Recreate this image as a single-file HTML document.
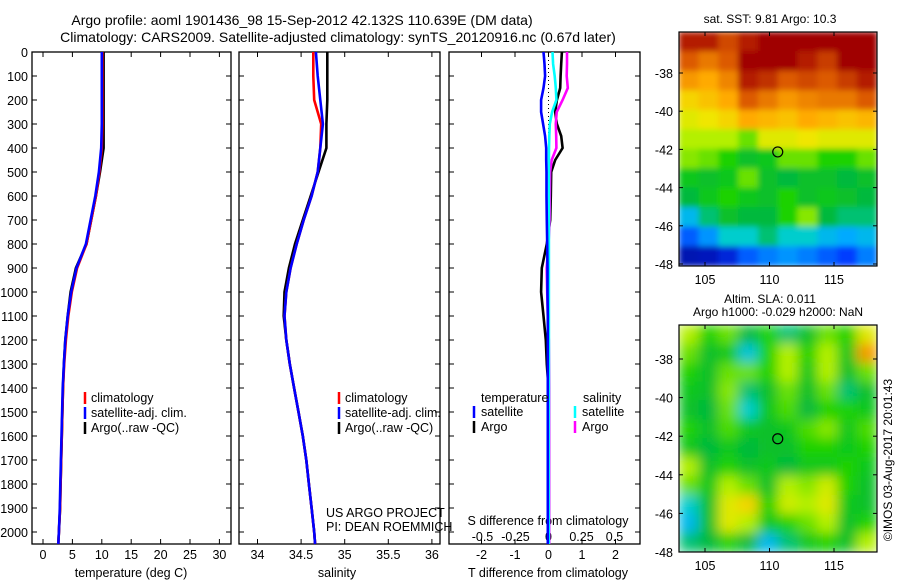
<!DOCTYPE html>
<html><head><meta charset="utf-8"><style>
html,body{margin:0;padding:0;background:#fff;}
svg{display:block;font-family:"Liberation Sans",sans-serif;}
text{fill:#000;}
</style></head><body>
<svg id="fig" width="900" height="580" viewBox="0 0 900 580">
<text x="302" y="25" font-size="14" text-anchor="middle">Argo profile: aoml 1901436_98 15-Sep-2012 42.132S 110.639E (DM data)</text>
<text x="338" y="42" font-size="14" text-anchor="middle">Climatology: CARS2009. Satellite-adjusted climatology: synTS_20120916.nc (0.67d later)</text>
<g id="g"></g>
</svg>
<script>
const depths=[0,100,200,300,400,500,600,700,800,900,1000,1100,1200,1300,1400,1500,1600,1700,1800,1900,2000,2050];
const climT=[10.1,10.1,10.1,10.1,10.0,9.6,9.0,8.2,7.4,5.8,4.9,4.3,3.9,3.6,3.4,3.3,3.2,3.1,3.0,2.9,2.7,2.6];
const satT=[10.0,10.0,10.0,10.0,9.9,9.5,8.9,8.1,7.3,5.7,4.8,4.2,3.8,3.55,3.35,3.25,3.15,3.05,2.95,2.85,2.7,2.6];
const argoT=[10.3,10.3,10.3,10.3,10.3,9.7,9.0,8.2,7.4,5.6,4.7,4.2,3.8,3.55,3.4,3.3,3.2,3.1,3.0,2.9,2.7,2.6];
const climS=[34.64,34.64,34.65,34.73,34.72,34.69,34.62,34.53,34.45,34.38,34.33,34.31,34.33,34.37,34.42,34.47,34.52,34.56,34.59,34.62,34.65,34.66];
const satS=[34.67,34.69,34.72,34.75,34.72,34.69,34.62,34.53,34.45,34.38,34.33,34.31,34.33,34.37,34.42,34.47,34.52,34.56,34.59,34.62,34.65,34.66];
const argoS=[34.8,34.8,34.8,34.79,34.79,34.70,34.61,34.52,34.43,34.36,34.31,34.30,34.33,34.37,34.42,34.47,34.52,34.56,34.59,34.62,34.65,34.66];
const dDepths=[0,50,100,150,200,250,300,350,400,450,500,600,700,800,900,1000,1100,1200,1300,1400,1600,1800,2000,2050];
const dTsat=[-0.15,-0.12,-0.1,-0.15,-0.22,-0.22,-0.16,-0.1,-0.07,-0.07,-0.06,-0.06,-0.05,-0.04,-0.03,-0.03,-0.02,-0.02,-0.02,-0.02,-0.02,-0.02,-0.02,-0.02];
const dTargo=[0.4,0.38,0.36,0.35,0.25,0.2,0.25,0.38,0.42,0.2,0.08,0.07,0.05,-0.05,-0.2,-0.22,-0.15,-0.08,-0.05,0,0,0,0,0];
const dSsat=[0.03,0.035,0.047,0.055,0.06,0.027,0.01,0.006,0.004,0.003,0.003,0.003,0.003,0.003,0.003,0.003,0.003,0.003,0.003,0.003,0.002,0.002,0.002,0.002];
const dSargo=[0.14,0.14,0.138,0.146,0.107,0.062,0.055,0.058,0.06,0.024,0.012,0.01,0.008,0.0,-0.014,-0.01,-0.005,0.002,0.004,0.005,0.005,0.005,0.005,0.005];
const tTicks=[0,5,10,15,20,25,30];
const sTicks=[34,34.5,35,35.5,36];
const sTickLabels=["34","34.5","35","35.5","36"];
const dtTicks=[-2,-1,0,1,2];
const dsTicks=[-0.5,-0.25,0,0.25,0.5];
const dsTickLabels=["-0.5","-0.25","0","0.25","0.5"];
const depthTicks=[0,100,200,300,400,500,600,700,800,900,1000,1100,1200,1300,1400,1500,1600,1700,1800,1900,2000];
const sstGrid=[
[0.95,0.95,0.88,0.95,1,1,1,1,1,1],
[0.85,0.8,0.85,1,1,1,0.95,0.9,1,1],
[0.75,0.72,0.78,0.95,0.92,0.85,0.88,0.85,0.9,0.95],
[0.65,0.68,0.72,0.85,0.8,0.75,0.78,0.8,0.8,0.85],
[0.6,0.62,0.65,0.72,0.7,0.68,0.72,0.7,0.68,0.7],
[0.55,0.55,0.55,0.5,0.6,0.6,0.62,0.6,0.6,0.6],
[0.52,0.5,0.45,0.4,0.42,0.5,0.5,0.45,0.45,0.5],
[0.42,0.4,0.42,0.5,0.4,0.38,0.4,0.4,0.38,0.4],
[0.38,0.42,0.45,0.42,0.4,0.45,0.4,0.42,0.4,0.38],
[0.25,0.35,0.4,0.38,0.38,0.45,0.52,0.38,0.35,0.35],
[0.15,0.2,0.3,0.3,0.35,0.3,0.3,0.25,0.22,0.25],
[0.04,0.05,0.08,0.15,0.18,0.2,0.18,0.15,0.12,0.18]];
const slaGrid=[
[0.55,0.45,0.5,0.38,0.45,0.35,0.4,0.5,0.45,0.6],
[0.5,0.4,0.42,0.28,0.45,0.55,0.45,0.55,0.42,0.75],
[0.45,0.4,0.5,0.5,0.45,0.55,0.42,0.55,0.4,0.5],
[0.42,0.4,0.52,0.35,0.4,0.5,0.4,0.5,0.35,0.4],
[0.4,0.38,0.5,0.3,0.42,0.48,0.38,0.45,0.45,0.42],
[0.45,0.4,0.48,0.42,0.4,0.42,0.48,0.52,0.42,0.48],
[0.42,0.38,0.42,0.38,0.4,0.4,0.45,0.45,0.42,0.45],
[0.55,0.4,0.45,0.4,0.42,0.38,0.42,0.42,0.45,0.42],
[0.5,0.42,0.55,0.5,0.4,0.55,0.52,0.58,0.45,0.4],
[0.3,0.4,0.6,0.65,0.45,0.58,0.55,0.6,0.42,0.4],
[0.25,0.4,0.6,0.55,0.42,0.45,0.5,0.55,0.4,0.45],
[0.35,0.38,0.45,0.38,0.25,0.35,0.42,0.45,0.4,0.55]];
const latTicks=[-38,-40,-42,-44,-46,-48];
const lonTicks=[105,110,115];
const argoLon=110.639, argoLat=-42.132;

const NS="http://www.w3.org/2000/svg";
const G=document.getElementById('g');
const FS=12.5;
function el(tag,attrs,parent){const e=document.createElementNS(NS,tag);for(const k in attrs)e.setAttribute(k,attrs[k]);(parent||G).appendChild(e);return e;}
function txt(x,y,s,size,anchor,name){const t=el('text',{x:x,y:y,'font-size':size||FS,'text-anchor':anchor||'start'});t.textContent=s;


return t;}
const Y0=52, PX100=24, YB=544;
const yD=d=>Y0+d*PX100/100;
const xT=v=>43+v*5.88;
const xS=v=>257.5+(v-34)*87.2;
const xDT=v=>548.5+v*33.5;
const xDS=v=>548.5+v*132;

function frame(x1,x2,name){const r=el('rect',{x:x1,y:Y0,width:x2-x1,height:YB-Y0,fill:'none',stroke:'#000','stroke-width':1.3});


depthTicks.forEach(d=>{el('line',{x1:x1,x2:x1+5,y1:yD(d),y2:yD(d),stroke:'#000'});el('line',{x1:x2,x2:x2-5,y1:yD(d),y2:yD(d),stroke:'#000'});});}
function xticks(vals,fx,labels,name){vals.forEach((v,i)=>{const x=fx(v);el('line',{x1:x,x2:x,y1:Y0,y2:Y0+5,stroke:'#000'});el('line',{x1:x,x2:x,y1:YB,y2:YB-5,stroke:'#000'});txt(x,559,labels[i],FS,'middle',name);});}
function line(xs,ds,fx,color,name,dash){const p=xs.map((v,i)=>fx(v).toFixed(1)+','+yD(ds[i]).toFixed(1)).join(' ');const e=el('polyline',{points:p,fill:'none',stroke:color,'stroke-width':2.6});if(dash)e.setAttribute('stroke-dasharray',dash);


return e;}

frame(32,231,'temperature-panel');
depthTicks.forEach(d=>txt(28,yD(d)+5,String(d),FS,'end','depth-tick-label'));
xticks(tTicks,xT,tTicks.map(String),'temperature-tick-label');
line(argoT,depths,xT,'#000','argo-temperature-line');
line(climT,depths,xT,'#f00','climatology-temperature-line');
line(satT,depths,xT,'#00f','satellite-temperature-line');
txt(131,577,'temperature (deg C)',FS,'middle','temperature-axis-title');
function legend(x,y,items){items.forEach((it,i)=>{el('line',{x1:x,x2:x,y1:y+i*15-10,y2:y+i*15+2,stroke:it[1],'stroke-width':2.5});txt(x+6,y+i*15,it[0],FS,'start','legend-entry');});}
legend(85,402,[['climatology','#f00'],['satellite-adj. clim.','#00f'],['Argo(..raw -QC)','#000']]);

frame(239,440,'salinity-panel');
xticks(sTicks,xS,sTickLabels,'salinity-tick-label');
line(argoS,depths,xS,'#000','argo-salinity-line');
line(climS,depths,xS,'#f00','climatology-salinity-line');
line(satS,depths,xS,'#00f','satellite-salinity-line');
txt(337,577,'salinity',FS,'middle','salinity-axis-title');
legend(339,402,[['climatology','#f00'],['satellite-adj. clim.','#00f'],['Argo(..raw -QC)','#000']]);
txt(326,517,'US ARGO PROJECT',FS,'start','credit-project');
txt(326,531,'PI: DEAN ROEMMICH',FS,'start','credit-pi');

frame(449,640,'difference-panel');
xticks(dtTicks,xDT,dtTicks.map(String),'t-diff-tick-label');
dsTicks.forEach((v,i)=>txt(xDS(v),541,dsTickLabels[i],FS,'middle','s-diff-tick-label'));
txt(548,525,'S difference from climatology',FS,'middle','s-diff-axis-title');
el('line',{x1:548.5,x2:548.5,y1:Y0,y2:yD(1320),stroke:'#000','stroke-dasharray':'1,3'});
line(dTargo,dDepths,xDT,'#000','argo-t-diff-line');
line(dSargo,dDepths,xDS,'#f0f','argo-s-diff-line');
line(dSsat,dDepths,xDS,'#0ff','satellite-s-diff-line');
line(dTsat,dDepths,xDT,'#00f','satellite-t-diff-line');
txt(548,577,'T difference from climatology',FS,'middle','t-diff-axis-title');
txt(481,402,'temperature',FS,'start','legend-temperature-header');
txt(583,402,'salinity',FS,'start','legend-salinity-header');
[['satellite','#00f',474],['Argo','#000',474],['satellite','#0ff',575],['Argo','#f0f',575]].forEach((it,i)=>{const y=416+(i%2)*15;el('line',{x1:it[2],x2:it[2],y1:y-10,y2:y+2,stroke:it[1],'stroke-width':2.5});txt(it[2]+7,y,it[0],FS,'start','legend-entry');});

const stops=[[0,[0,0,140]],[0.12,[0,60,255]],[0.22,[0,170,255]],[0.3,[0,205,205]],[0.38,[0,185,60]],[0.45,[30,210,0]],[0.55,[180,240,0]],[0.62,[240,230,0]],[0.72,[255,170,0]],[0.85,[220,90,0]],[1,[160,0,0]]];
function cmap(v){for(let i=1;i<stops.length;i++){if(v<=stops[i][0]){const a=stops[i-1],b=stops[i];const t=(v-a[0])/(b[0]-a[0]);return 'rgb('+a[1].map((c,k)=>Math.round(c+(b[1][k]-c)*t)).join(',')+')';}}return 'rgb(160,0,0)';}
function map(grid,x1,y1,x2,y2,latTop,pxLat,name,blur){
  const g=el('g',{});
  
  
  const cp=el('clipPath',{id:name+'-clip'},g);el('rect',{x:x1,y:y1,width:x2-x1,height:y2-y1},cp);
  const cg=el('g',{'clip-path':'url(#'+name+'-clip)'},g);
  const inner=el('g',{filter:'url(#'+blur+')'},cg);
  const rows=grid.length,cols=grid[0].length,cw=(x2-x1)/cols,ch=(y2-y1)/rows;
  grid.forEach((r,i)=>r.forEach((v,j)=>{const c=el('rect',{x:x1+j*cw-0.3,y:y1+i*ch-0.3,width:cw+0.8,height:ch+0.8,fill:cmap(v)},inner);
  
  }));
  el('rect',{x:x1,y:y1,width:x2-x1,height:y2-y1,fill:'none',stroke:'#000','stroke-width':1.2},g);
  const xLon=l=>705+(l-105)*12.9, yLat=l=>latTop+(-38-l)*pxLat;
  latTicks.forEach(l=>{const y=yLat(l);el('line',{x1:x1,x2:x1+4,y1:y,y2:y,stroke:'#000'},g);el('line',{x1:x2,x2:x2-4,y1:y,y2:y,stroke:'#000'},g);txt(673,y+5,String(l),FS,'end','latitude-tick-label');});
  lonTicks.forEach(l=>{const x=xLon(l);el('line',{x1:x,x2:x,y1:y2,y2:y2-4,stroke:'#000'},g);el('line',{x1:x,x2:x,y1:y1,y2:y1+4,stroke:'#000'},g);txt(x,y2+18,String(l),FS,'middle','longitude-tick-label');});
  const m=el('circle',{cx:xLon(argoLon),cy:yLat(argoLat),r:5,fill:'none',stroke:'#000','stroke-width':1.2},g);
  
  
}
const defs=el('defs',{});
const f=el('filter',{id:'blur',x:'-10%',y:'-10%',width:'120%',height:'120%'},defs);el('feGaussianBlur',{stdDeviation:6,'edgeMode':'duplicate'},f);
const f2=el('filter',{id:'blur2',x:'-10%',y:'-10%',width:'120%',height:'120%'},defs);el('feGaussianBlur',{stdDeviation:3,'edgeMode':'duplicate'},f2);
map(sstGrid,679,32,877,266,73,19.1,'sst-map','blur2');
map(slaGrid,679,325,877,552,359,19.3,'sla-map','blur');
txt(770,23,'sat. SST: 9.81 Argo: 10.3',12,'middle','sst-map-title');
txt(770,303,'Altim. SLA: 0.011',12,'middle','sla-map-title');
txt(778,316,'Argo h1000: -0.029 h2000: NaN',12,'middle','sla-map-subtitle');
const r=txt(0,0,'©IMOS 03-Aug-2017 20:01:43',12,'middle','timestamp-label');
r.setAttribute('transform','translate(892,460) rotate(-90)');
</script>
</body></html>
